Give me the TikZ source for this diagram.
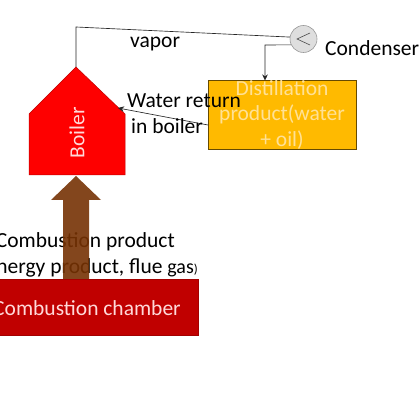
\documentclass[tikz,border=0pt]{standalone}
\usepackage{fontspec}
\setmainfont{Carlito}
\usetikzlibrary{arrows.meta}
\definecolor{boilerred}{RGB}{254,0,0}
\definecolor{chamberred}{RGB}{192,0,0}
\definecolor{distgold}{RGB}{255,186,0}
\definecolor{flowbrown}{RGB}{118,50,4}
\definecolor{paletext}{RGB}{255,225,150}
\tikzset{
  x=1pt,y=-1pt,
  lbl/.style={font=\fontsize{21.5}{25}\selectfont,text=black,inner sep=0pt},
  wire/.style={draw=black!85,line width=0.65pt},
  tip/.style={-{Stealth[length=6pt,width=5.5pt]}},
  boxtext/.style={inner sep=0pt,align=center}
}
\begin{document}
\begin{tikzpicture}
\useasboundingbox (0,0) rectangle (419,419);
\clip (0,0) rectangle (419,419);
% boiler
\coordinate (apex) at (76,67);
\coordinate (boilerright) at (118,108);
\fill[boilerred] (apex) -- (125,114) -- (125,175) -- (29,175) -- (29,114) -- cycle;
\draw[draw=chamberred,line width=0.5pt] (apex) -- (125,114) -- (125,175) -- (29,175) -- (29,114) -- cycle;
\node[boxtext,rotate=90,text=white!85!red,font=\fontsize{21.5}{25}\selectfont] (boiler) at (77,133) {Boiler};
% combustion labels (under arrow)
\node[lbl,anchor=base east] (lblcomb) at (175,247) {Combustion product};
\node[lbl,anchor=base east] (lblflue) at (198,273) {(energy product, flue {\fontsize{20}{23}\selectfont gas}{\fontsize{13}{15}\selectfont)}};
% flow arrow
\fill[flowbrown,opacity=0.9] (63,279) -- (63,200) -- (51,200) -- (76,176) -- (101,200) -- (89,200) -- (89,279) -- cycle;
% chamber
\node[fill=chamberred,draw=chamberred!85!black,line width=0.5pt,minimum width=199.5pt,minimum height=56pt,inner sep=0pt,anchor=north west] (chamber) at (-2,279) {};
\node[boxtext,anchor=base east,text=white!85!red,font=\fontsize{21.5}{25}\selectfont] (chambertext) at (181,315) {Combustion chamber};
% distillation
\node[fill=distgold,draw=black!60!distgold,line width=0.6pt,minimum width=148pt,minimum height=69pt,inner sep=0pt,anchor=north west] (dist) at (208,80.5) {};
\node[boxtext,text=paletext,font=\fontsize{21.5}{25.7}\selectfont,anchor=center] (disttext) at (282,115) {Distillation\\product(water\\+ oil)};
% condenser
\node[circle,fill=black!13,draw=black!40,line width=0.6pt,minimum size=27pt,inner sep=0pt] (cond) at (303.5,39) {};
\draw[black!70,line width=0.6pt] (310,33) -- (297,39) -- (310,45);
\node[lbl,anchor=base west] (lblcond) at (325,56) {Condenser};
% connectors
\coordinate (vaporcorner) at (76,27);
\draw[wire] (apex) -- (vaporcorner) -- (cond.172);
\coordinate (condcorner) at (265,45);
\draw[wire,tip] (cond.205) -- (condcorner) -- (condcorner |- dist.north);
\coordinate (distleft) at (208,125);
\draw[wire,tip] (distleft) -- (boilerright);
% labels
\node[lbl,anchor=base west] (lblvapor) at (130,48) {vapor};
\node[lbl,anchor=base west] (lblwater) at (127,108) {Water return};
\node[lbl,anchor=base west] (lblin) at (131,134) {in boiler};
\end{tikzpicture}
\end{document}
